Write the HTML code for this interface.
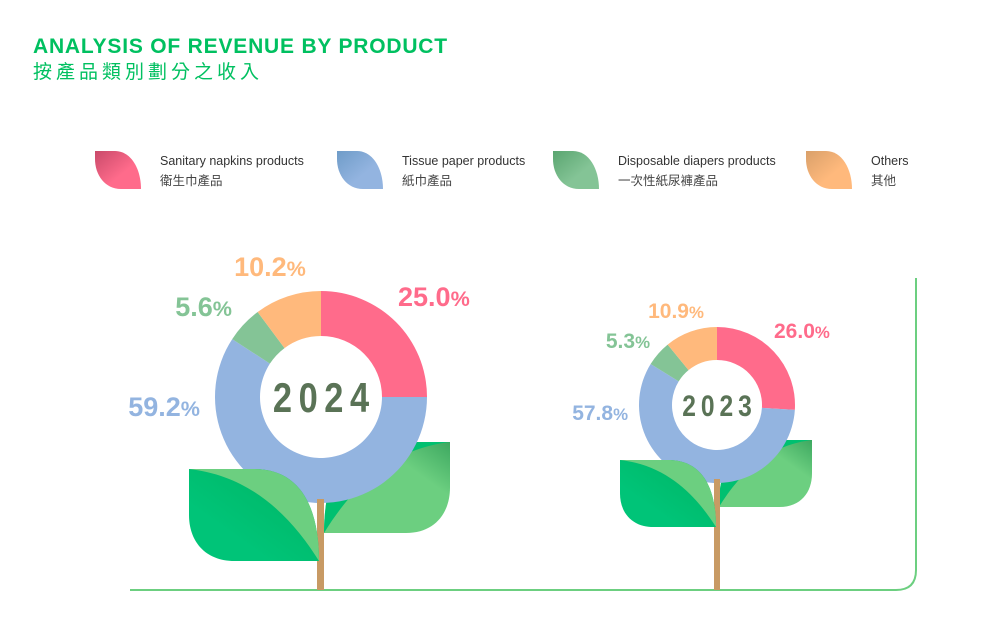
<!DOCTYPE html>
<html><head><meta charset="utf-8"><style>
body{margin:0;background:#fff;font-family:"Liberation Sans","Noto Sans CJK TC",sans-serif}
svg{display:block}
</style></head><body>
<svg width="992" height="628" viewBox="0 0 992 628" xmlns="http://www.w3.org/2000/svg">
<defs>
<linearGradient id="dk" x1="1" y1="0" x2="0.3" y2="0.7"><stop offset="0" stop-color="#008f48"/><stop offset="0.45" stop-color="#00bb6c"/><stop offset="1" stop-color="#00c478"/></linearGradient>
<linearGradient id="lt" x1="0" y1="0" x2="0.6" y2="0.6"><stop offset="0" stop-color="#3da860"/><stop offset="0.5" stop-color="#6ccf80"/><stop offset="1" stop-color="#6ccf80"/></linearGradient>
<linearGradient id="lg1" x1="0" y1="0" x2="1" y2="1"><stop offset="0" stop-color="#c94a6a"/><stop offset="0.6" stop-color="#ff6b8b"/></linearGradient>
<linearGradient id="lg2" x1="0" y1="0" x2="1" y2="1"><stop offset="0" stop-color="#6f9cc8"/><stop offset="0.6" stop-color="#93b4e0"/></linearGradient>
<linearGradient id="lg3" x1="0" y1="0" x2="1" y2="1"><stop offset="0" stop-color="#5aa570"/><stop offset="0.6" stop-color="#84c496"/></linearGradient>
<linearGradient id="lg4" x1="0" y1="0" x2="1" y2="1"><stop offset="0" stop-color="#d9a06a"/><stop offset="0.6" stop-color="#ffb97c"/></linearGradient>
</defs>
<text x="33" y="53" font-size="21" font-weight="bold" fill="#00c060" letter-spacing="0.8">ANALYSIS OF REVENUE BY PRODUCT</text>
<text x="33" y="78" font-size="19" fill="#00c060" letter-spacing="4" font-family="Noto Sans CJK TC, sans-serif">按產品類別劃分之收入</text>
<g id="legend"></g>
<path d="M130 590 H896 Q916 590 916 570 V278" fill="none" stroke="#6ccf80" stroke-width="2"/>
<g id="charts"></g>
</svg>
<script>
const categories=["Sanitary napkins products","Tissue paper products","Disposable diapers products","Others"];
const categoriesZh=["衛生巾產品","紙巾產品","一次性紙尿褲產品","其他"];
const colors=["#ff6b8b","#93b4e0","#84c496","#ffb97c"];
const years=["2024","2023"];
const values2024=[25.0,59.2,5.6,10.2];
const values2023=[26.0,57.8,5.3,10.9];
const NS="http://www.w3.org/2000/svg";
function mk(tag,attrs,parent){const e=document.createElementNS(NS,tag);for(const k in attrs)e.setAttribute(k,attrs[k]);parent.appendChild(e);return e;}
const lg=document.getElementById('legend');
const lx=[95,337,553,806];
categories.forEach((c,i)=>{
  const g=mk('g',{},lg);
  
  
  const x=lx[i],y=151;
  const p=mk('path',{d:`M${x} ${y} H${x+20} C${x+36} ${y} ${x+46} ${y+18} ${x+46} ${y+38} H${x+26} C${x+10} ${y+38} ${x} ${y+24} ${x} ${y+8} Z`,fill:`url(#lg${i+1})`},g);
  
  
  const t=mk('text',{x:x+65,y:y+14,'font-size':12.5,fill:'#333'},g);t.textContent=c;
  
  
  const t2=mk('text',{x:x+65,y:y+34,'font-size':12.5,fill:'#444','font-family':'Noto Sans CJK TC, sans-serif'},g);t2.textContent=categoriesZh[i];
  
  
});
function leaf(parent,x,y,w,h,mirror){
  const g=mk('g',{transform:mirror?`translate(${x+w},${y}) scale(-1,1)`:`translate(${x},${y})`},parent);
  
  
  const outer=`M0 0 L${w*0.5} 0 C${w*0.85} 0 ${w} ${h*0.4} ${w} ${h} L${w*0.35} ${h} C${w*0.12} ${h} 0 ${h*0.78} 0 ${h*0.5} Z`;
  const sliver=`M0 0 L${w*0.5} 0 C${w*0.85} 0 ${w} ${h*0.4} ${w} ${h} C${w*0.8} ${h*0.55} ${w*0.5} ${h*0.08} 0 0 Z`;
  if(!mirror){
    mk('path',{d:outer,fill:'url(#dk)'},g);
    mk('path',{d:sliver,fill:'#6ccf80'},g);
  } else {
    mk('path',{d:outer,fill:'url(#lt)'},g);
    mk('path',{d:sliver,fill:'#00c070'},g);
  }
}
function plant(cfg,vals,year){
  const root=document.getElementById('charts');
  const g=mk('g',{},root);
  
  
  leaf(g,cfg.rl[0],cfg.rl[1],cfg.rl[2],cfg.rl[3],true);
  const total=vals.reduce((a,b)=>a+b,0);
  let a0=0;
  vals.forEach((v,i)=>{
    const a1=a0+v/total*Math.PI*2;
    const R=cfg.R,r=cfg.r,cx=cfg.cx,cy=cfg.cy;
    const p=(rr,a)=>[cx+rr*Math.sin(a),cy-rr*Math.cos(a)];
    const [x1,y1]=p(R,a0),[x2,y2]=p(R,a1),[x3,y3]=p(r,a1),[x4,y4]=p(r,a0);
    const lf=(a1-a0)>Math.PI?1:0;
    const s=mk('path',{d:`M${x1} ${y1} A${R} ${R} 0 ${lf} 1 ${x2} ${y2} L${x3} ${y3} A${r} ${r} 0 ${lf} 0 ${x4} ${y4} Z`,fill:colors[i]},g);
    
    
    const lp=cfg.labels[i];
    const t=mk('text',{x:lp[0],y:lp[1],'font-size':cfg.fs,'font-weight':'bold',fill:colors[i],'text-anchor':lp[2]},g);
    
    
    const n=mk('tspan',{},t);n.textContent=v.toFixed(1);
    const pc=mk('tspan',{'font-size':cfg.fs*0.8},t);pc.textContent='%';
    a0=a1;
  });
  const yg=mk('g',{transform:`translate(${cfg.cx},${cfg.cy+cfg.ys*0.36}) scale(0.82,1)`},g);
  const yt=mk('text',{x:cfg.ls/2,y:0,'font-size':cfg.ys,'font-weight':'bold',fill:'#5a7356','text-anchor':'middle','letter-spacing':cfg.ls},yg);
  yt.textContent=year;
  
  
  const st=mk('rect',{x:cfg.sx,y:cfg.cy+cfg.R-4,width:cfg.sw,height:590-(cfg.cy+cfg.R-4),fill:'#c89a64'},g);
  
  
  leaf(g,cfg.ll[0],cfg.ll[1],cfg.ll[2],cfg.ll[3],false);
}
plant({cx:321,cy:397,R:106,r:61,fs:27,ys:42,ls:8,sx:317,sw:7,rl:[324,442,126,91],ll:[189,469,130,92],
  labels:[[398,306,'start'],[200,416,'end'],[232,316,'end'],[270,276,'middle']]},values2024,years[0]);
plant({cx:717,cy:405,R:78,r:45,fs:21,ys:30,ls:6,sx:714,sw:6,rl:[719,440,93,67],ll:[620,460,96,67],
  labels:[[774,338,'start'],[628,420,'end'],[650,348,'end'],[676,318,'middle']]},values2023,years[1]);
</script>
</body></html>
